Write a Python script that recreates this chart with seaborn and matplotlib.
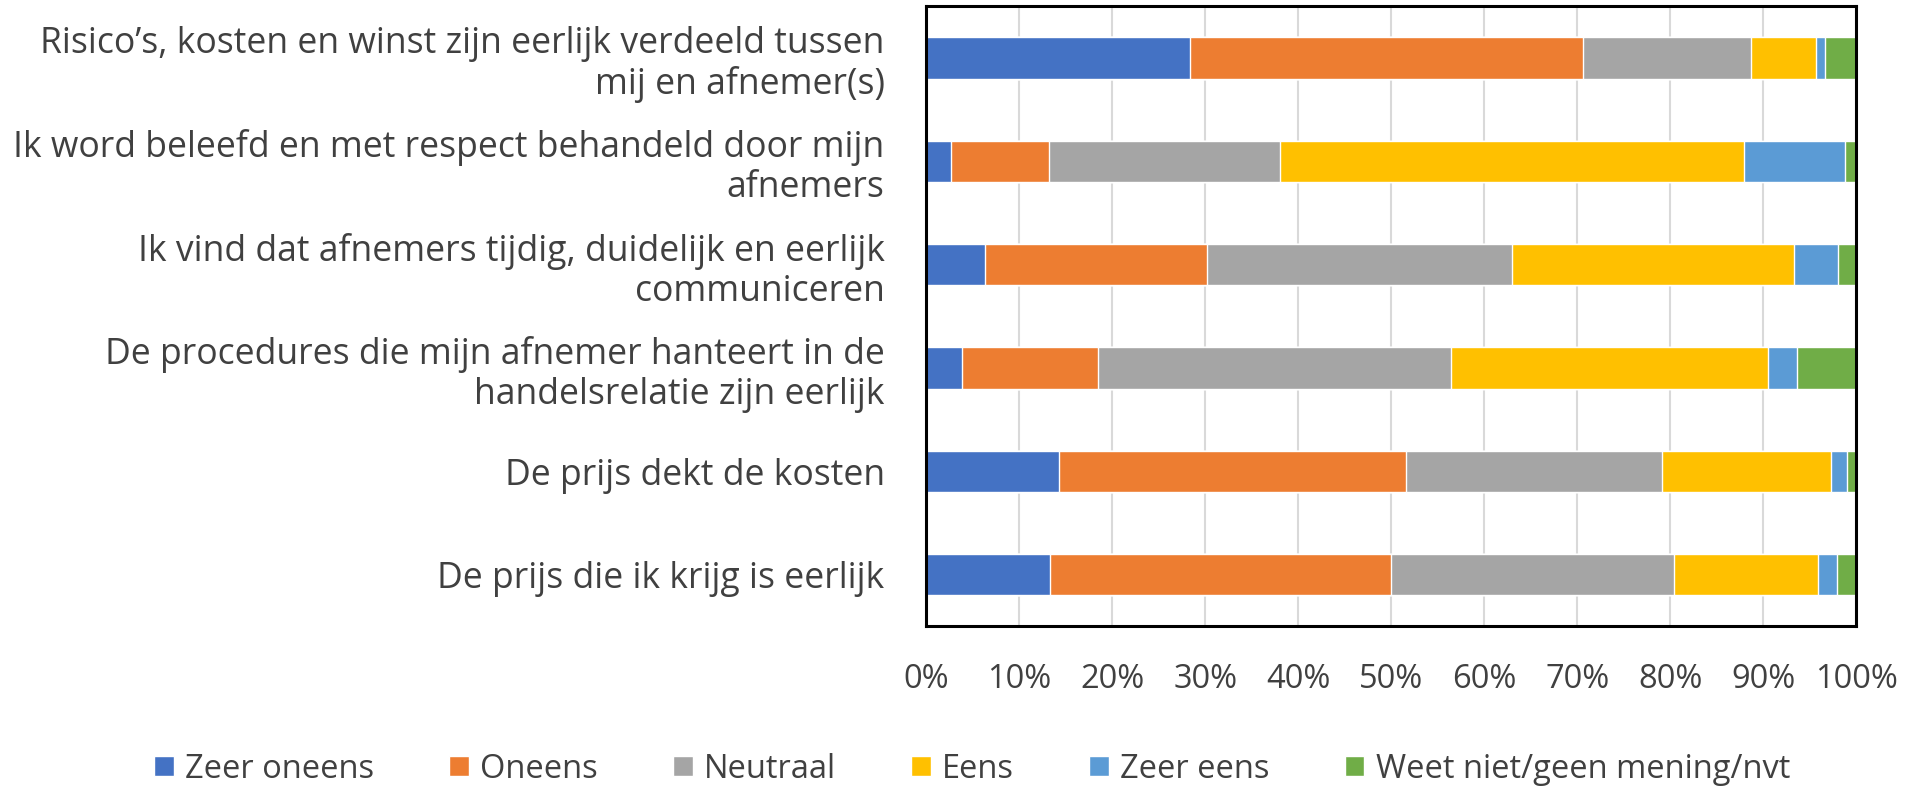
import numpy as np
import pandas as pd
import seaborn as sns
import matplotlib.pyplot as plt
from matplotlib.patches import Patch

# =========================
# DATA (percentages)
# =========================
statements = [
    "Risico\u2019s, kosten en winst zijn eerlijk verdeeld tussen\nmij en afnemer(s)",
    "Ik word beleefd en met respect behandeld door mijn\nafnemers",
    "Ik vind dat afnemers tijdig, duidelijk en eerlijk\ncommuniceren",
    "De procedures die mijn afnemer hanteert in de\nhandelsrelatie zijn eerlijk",
    "De prijs dekt de kosten",
    "De prijs die ik krijg is eerlijk",
]
answers = ["Zeer oneens", "Oneens", "Neutraal", "Eens", "Zeer eens",
           "Weet niet/geen mening/nvt"]

zeer_oneens = [28.3, 2.7, 6.3, 3.8, 14.3, 13.3]
oneens = [42.3, 10.5, 23.9, 14.7, 37.3, 36.7]
neutraal = [18.1, 24.8, 32.8, 37.9, 27.5, 30.4]
eens = [7.0, 49.9, 30.3, 34.1, 18.2, 15.5]
zeer_eens = [0.9, 10.9, 4.7, 3.1, 1.7, 2.0]
weet_niet = [3.4, 1.2, 2.0, 6.4, 1.0, 2.1]

colors = ["#4472C4", "#ED7D31", "#A5A5A5", "#FFC000", "#5B9BD5", "#70AD47"]

df = pd.DataFrame({
    "Zeer oneens": zeer_oneens,
    "Oneens": oneens,
    "Neutraal": neutraal,
    "Eens": eens,
    "Zeer eens": zeer_eens,
    "Weet niet/geen mening/nvt": weet_niet,
}, index=statements)

# normalise each row to 100% and build cumulative sums for stacking
df = df.div(df.sum(axis=1), axis=0) * 100
cum = df.cumsum(axis=1)

# =========================
# PLOT
# =========================
sns.set_style("white")
plt.rcParams["font.family"] = ["Open Sans", "DejaVu Sans"]
text_color = "#404040"

fig = plt.figure(figsize=(19.06, 7.88), dpi=100)
ax = fig.add_axes([0.486, 0.205, 0.488, 0.787])

# draw from the right end back to the start so each segment shows
for col, c in reversed(list(zip(answers, colors))):
    sns.barplot(x=cum[col].values, y=statements, color=c, orient="h",
                width=0.4, ax=ax, saturation=1, zorder=2)

ax.set_xlim(0, 100)
ax.set_xticks(np.arange(0, 101, 10))
ax.set_xticklabels([f"{v}%" for v in range(0, 101, 10)])
ax.xaxis.grid(True, color="#D9D9D9", linewidth=1.5, zorder=0)
ax.set_axisbelow(True)
ax.set_xlabel("")
ax.set_ylabel("")

for s in ax.spines.values():
    s.set_visible(True)
    s.set_color("black")
    s.set_linewidth(2.2)

ax.tick_params(axis="x", length=0, pad=26, labelsize=23.5, labelcolor=text_color)
ax.tick_params(axis="y", length=0, pad=30, labelsize=25.6, labelcolor=text_color)
for lbl in ax.get_yticklabels():
    lbl.set_horizontalalignment("right")
    lbl.set_multialignment("right")
    lbl.set_linespacing(1.15)

handles = [Patch(facecolor=c, label=a) for a, c in zip(answers, colors)]
fig.legend(handles=handles, loc="center", bbox_to_anchor=(0.51, 0.024), ncol=6,
           frameon=False, fontsize=23.5, handlelength=0.6, handleheight=0.6,
           handletextpad=0.35, columnspacing=2.3, labelcolor=text_color)

fig.savefig("out.png", dpi=100)
